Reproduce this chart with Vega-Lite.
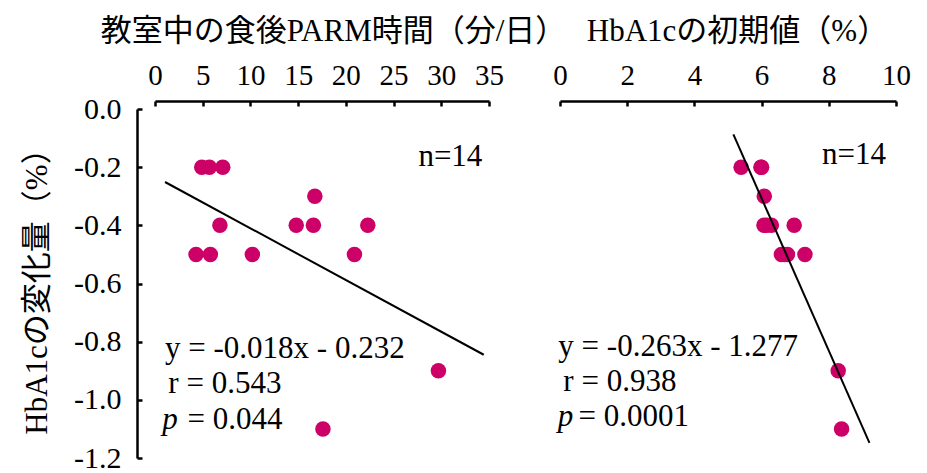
{
  "$schema": "https://vega.github.io/schema/vega-lite/v6.json",
  "padding": {"left": 21, "top": 15, "right": 0, "bottom": 0},
  "bounds": "flush",
  "spacing": 71,
  "config": {
    "font": "Liberation Serif, 'Noto Sans CJK JP'",
    "view": {"stroke": null},
    "axis": {
      "grid": false,
      "domainColor": "black",
      "tickColor": "black",
      "domainWidth": 2.5,
      "tickWidth": 2.5,
      "tickSize": -5,
      "labelColor": "black",
      "titleColor": "black",
      "labelFont": "Liberation Serif, 'Noto Sans CJK JP'",
      "titleFont": "Liberation Serif, 'Noto Sans CJK JP'",
      "titleFontWeight": "normal",
      "labelFlush": false,
      "labelOverlap": false
    }
  },
  "datasets": {
    "left": [
      {"x": 4.9, "y": -0.2}, {"x": 5.7, "y": -0.2}, {"x": 7.1, "y": -0.2},
      {"x": 16.75, "y": -0.3},
      {"x": 6.8, "y": -0.4}, {"x": 14.8, "y": -0.4}, {"x": 16.6, "y": -0.4}, {"x": 22.3, "y": -0.4},
      {"x": 4.3, "y": -0.5}, {"x": 5.8, "y": -0.5}, {"x": 10.2, "y": -0.5}, {"x": 20.9, "y": -0.5},
      {"x": 29.7, "y": -0.9},
      {"x": 17.6, "y": -1.1}
    ],
    "leftLine": [
      {"x": 1.05, "y": -0.251},
      {"x": 34.45, "y": -0.845}
    ],
    "leftText": [
      {"x": 27.6, "y": -0.196, "label": "n=14"},
      {"x": 1.05, "y": -0.855, "label": "y = -0.018x - 0.232"},
      {"x": 1.4, "y": -0.976, "label": "r = 0.543"},
      {"x": 3.4, "y": -1.1, "label": "= 0.044"}
    ],
    "leftP": [
      {"x": 0.77, "y": -1.1, "label": "p"}
    ],
    "right": [
      {"x": 5.39, "y": -0.2}, {"x": 5.98, "y": -0.2}, {"x": 6.0, "y": -0.2},
      {"x": 6.08, "y": -0.3},
      {"x": 6.07, "y": -0.4}, {"x": 6.15, "y": -0.4}, {"x": 6.29, "y": -0.4}, {"x": 6.97, "y": -0.4},
      {"x": 6.59, "y": -0.5}, {"x": 6.68, "y": -0.5}, {"x": 6.77, "y": -0.5}, {"x": 7.29, "y": -0.5},
      {"x": 8.28, "y": -0.9},
      {"x": 8.38, "y": -1.1}
    ],
    "rightLine": [
      {"x": 5.16, "y": -0.087},
      {"x": 9.21, "y": -1.148}
    ],
    "rightText": [
      {"x": 7.8, "y": -0.19, "label": "n=14"},
      {"x": -0.05, "y": -0.85, "label": "y = -0.263x - 1.277"},
      {"x": 0.1, "y": -0.97, "label": "r = 0.938"},
      {"x": 0.55, "y": -1.09, "label": "= 0.0001"}
    ],
    "rightP": [
      {"x": -0.07, "y": -1.09, "label": "p"}
    ]
  },
  "hconcat": [
    {
      "width": 334,
      "height": 349,
      "layer": [
        {
          "data": {"name": "left"},
          "mark": {"type": "point", "filled": true, "size": 240, "color": "#cc0066", "opacity": 1},
          "encoding": {
            "x": {
              "field": "x", "type": "quantitative",
              "scale": {"domain": [0, 35], "nice": false, "zero": false},
              "axis": {
                "orient": "top", "offset": 8,
                "values": [0, 5, 10, 15, 20, 25, 30, 35],
                "labelFontSize": 29, "labelPadding": 16,
                "title": "教室中の食後PARM時間（分/日）",
                "titleFontSize": 31, "titlePadding": 14,
                "titleX": 178
              }
            },
            "y": {
              "field": "y", "type": "quantitative",
              "scale": {"domain": [-1.2, 0], "nice": false, "zero": false},
              "axis": {
                "orient": "left", "offset": 18,
                "values": [0, -0.2, -0.4, -0.6, -0.8, -1.0, -1.2],
                "labelExpr": "replace(format(datum.value, '.1f'), '\u2212', '-')",
                "labelFontSize": 30, "labelPadding": 21,
                "title": "HbA1cの変化量（%）",
                "titleFontSize": 31, "titlePadding": 20
              }
            }
          }
        },
        {
          "data": {"name": "leftLine"},
          "mark": {"type": "line", "color": "black", "strokeWidth": 2},
          "encoding": {
            "x": {"field": "x", "type": "quantitative"},
            "y": {"field": "y", "type": "quantitative"}
          }
        },
        {
          "data": {"name": "leftText"},
          "mark": {"type": "text", "align": "left", "baseline": "alphabetic", "fontSize": 31, "color": "black"},
          "encoding": {
            "x": {"field": "x", "type": "quantitative"},
            "y": {"field": "y", "type": "quantitative"},
            "text": {"field": "label"}
          }
        },
        {
          "data": {"name": "leftP"},
          "mark": {"type": "text", "align": "left", "baseline": "alphabetic", "fontSize": 31, "fontStyle": "italic", "color": "black"},
          "encoding": {
            "x": {"field": "x", "type": "quantitative"},
            "y": {"field": "y", "type": "quantitative"},
            "text": {"field": "label"}
          }
        }
      ]
    },
    {
      "width": 336,
      "height": 349,
      "layer": [
        {
          "data": {"name": "right"},
          "mark": {"type": "point", "filled": true, "size": 240, "color": "#cc0066", "opacity": 1},
          "encoding": {
            "x": {
              "field": "x", "type": "quantitative",
              "scale": {"domain": [0, 10], "nice": false, "zero": false},
              "axis": {
                "orient": "top", "offset": 8,
                "values": [0, 2, 4, 6, 8, 10],
                "labelFontSize": 29, "labelPadding": 16,
                "title": "HbA1cの初期値（%）",
                "titleFontSize": 31, "titlePadding": 14,
                "titleX": 177
              }
            },
            "y": {
              "field": "y", "type": "quantitative",
              "scale": {"domain": [-1.2, 0], "nice": false, "zero": false},
              "axis": null
            }
          }
        },
        {
          "data": {"name": "rightLine"},
          "mark": {"type": "line", "color": "black", "strokeWidth": 2},
          "encoding": {
            "x": {"field": "x", "type": "quantitative"},
            "y": {"field": "y", "type": "quantitative", "axis": null}
          }
        },
        {
          "data": {"name": "rightText"},
          "mark": {"type": "text", "align": "left", "baseline": "alphabetic", "fontSize": 31, "color": "black"},
          "encoding": {
            "x": {"field": "x", "type": "quantitative"},
            "y": {"field": "y", "type": "quantitative", "axis": null},
            "text": {"field": "label"}
          }
        },
        {
          "data": {"name": "rightP"},
          "mark": {"type": "text", "align": "left", "baseline": "alphabetic", "fontSize": 31, "fontStyle": "italic", "color": "black"},
          "encoding": {
            "x": {"field": "x", "type": "quantitative"},
            "y": {"field": "y", "type": "quantitative", "axis": null},
            "text": {"field": "label"}
          }
        }
      ]
    }
  ]
}
